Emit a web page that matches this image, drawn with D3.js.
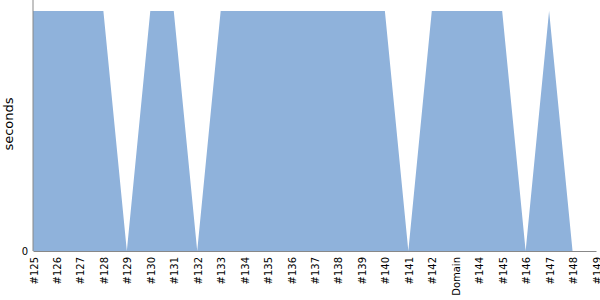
<!DOCTYPE html>
<html>
<head>
<meta charset="utf-8">
<script src="https://cdn.jsdelivr.net/npm/d3@7"></script>
<style>
body { margin: 0; background: #fff; }
</style>
</head>
<body>
<div class="module"></div>
<script>
const builds = ["#125","#126","#127","#128","#129","#130","#131","#132","#133","#134","#135","#136",
	"#137","#138","#139","#140","#141","#142","Domain","#144","#145","#146","#147","#148","#149"];
const seconds = [1,1,1,1,0,1,1,0,1,1,1,1,1,1,1,1,0,1,1,1,1,0,1,0,0];
const yTicks = [0];

drawChart(d3.select('.module').node());

function drawChart(rootDOM){
	const W = 600;
	const H = 300;
	const m = {top: 0, right: 4, bottom: 49, left: 33};
	const FONT = '"DejaVu Sans", Verdana, sans-serif';

	const svg = d3.select(rootDOM)
		.append('svg')
		.attr('width', W)
		.attr('height', H);

	const x = d3.scalePoint()
		.domain(builds)
		.range([m.left, W - m.right]);

	const y = d3.scaleLinear()
		.domain([0, 1.046])
		.range([H - m.bottom, m.top]);

	const data = builds.map((b, i) => ({b: b, v: seconds[i]}));

	const area = d3.area()
		.x(d => x(d.b))
		.y0(y(0))
		.y1(d => y(d.v));

	svg.append('path')
		.datum(data)
		.attr('d', area)
		.style('fill', '#8fb2db');

	// x axis
	const xAxis = svg.append('g')
		.attr('transform', `translate(0,${H - m.bottom})`)
		.call(d3.axisBottom(x).tickSize(0).tickPadding(0));
	xAxis.attr('font-family', FONT).attr('font-size', 10);
	xAxis.select('.domain').attr('stroke', '#888');
	xAxis.selectAll('text')
		.style('font-family', FONT)
		.style('font-size', '10px')
		.attr('fill', '#000')
		.attr('text-anchor', 'end')
		.attr('dy', null)
		.attr('y', 0)
		.attr('transform', 'translate(4,6) rotate(-90)');

	// y axis
	const yAxis = svg.append('g')
		.attr('transform', `translate(${m.left},0)`)
		.call(d3.axisLeft(y).tickValues(yTicks).tickFormat(d3.format('d')).tickSize(0).tickPadding(5));
	yAxis.attr('font-family', FONT).attr('font-size', 10);
	yAxis.select('.domain').attr('stroke', '#888').attr('d', `M0,0V${H - m.bottom}`);
	yAxis.selectAll('text')
		.style('font-family', FONT)
		.style('font-size', '10px')
		.attr('fill', '#000');

	svg.append('text')
		.attr('transform', `translate(13,124) rotate(-90)`)
		.attr('text-anchor', 'middle')
		.style('font-family', FONT)
		.style('font-size', '13px')
		.text('seconds');
}
</script>
</body>
</html>
